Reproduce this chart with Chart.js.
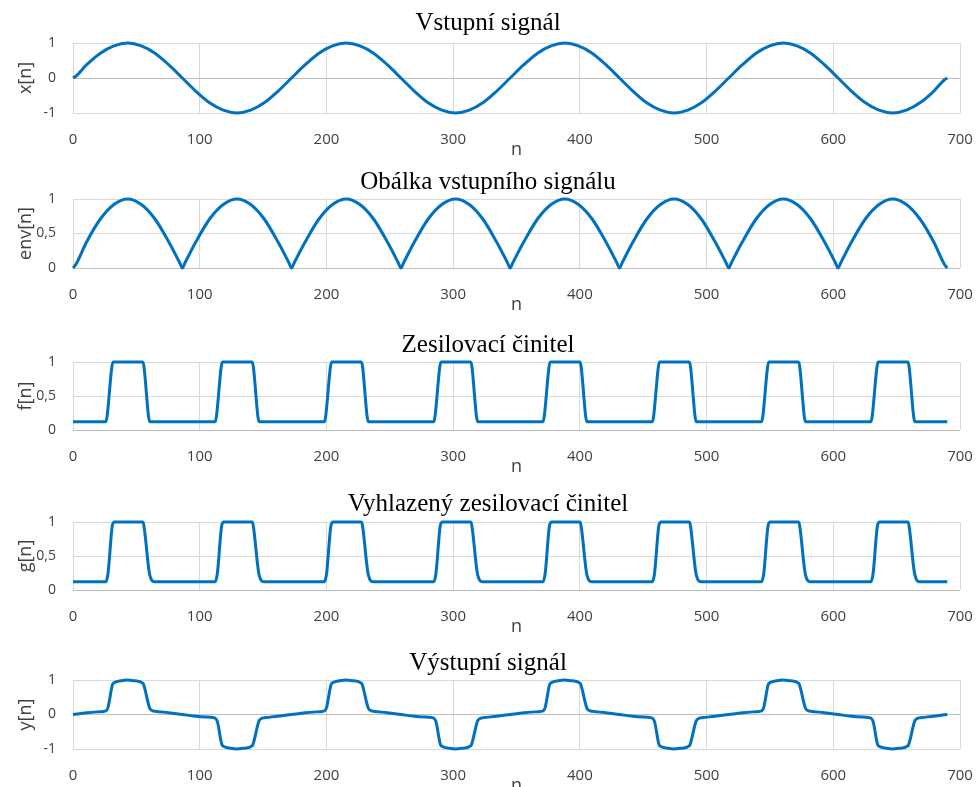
<!DOCTYPE html>
<html>
<head>
<meta charset="utf-8">
<script src="https://cdn.jsdelivr.net/npm/chart.js@4.4.1/dist/chart.umd.min.js"></script>
<style>
  html, body { margin: 0; padding: 0; background: #fff; overflow: hidden; }
  body { width: 976px; height: 787px; position: relative; }
  canvas { position: absolute; }
</style>
</head>
<body>
<script>
// x[n] – input signal
const xN = [0, 2.2, 10.8, 21.6, 32.3, 43.1, 53.9, 64.7, 75.5, 86.3, 97.0, 107.8, 118.6, 129.4, 140.2, 150.9, 161.7,
  172.5, 183.3, 194.1, 204.8, 215.6, 226.4, 237.2, 248.0, 258.8, 269.5, 280.3, 291.1, 301.9, 312.7, 323.4, 334.2,
  345.0, 355.8, 366.6, 377.3, 388.1, 398.9, 409.7, 420.5, 431.3, 442.0, 452.8, 463.6, 474.4, 485.2, 495.9, 506.7,
  517.5, 528.3, 539.1, 549.8, 560.6, 571.4, 582.2, 593.0, 603.8, 614.5, 625.3, 636.1, 646.9, 657.7, 668.4, 679.2, 687.8, 690.0];
const xVals = [0, 0.05, 0.38, 0.71, 0.92, 1, 0.92, 0.71, 0.38, 0, -0.38, -0.71, -0.92, -1, -0.92, -0.71, -0.38,
  0, 0.38, 0.71, 0.92, 1, 0.92, 0.71, 0.38, 0, -0.38, -0.71, -0.92, -1, -0.92, -0.71, -0.38,
  0, 0.38, 0.71, 0.92, 1, 0.92, 0.71, 0.38, 0, -0.38, -0.71, -0.92, -1, -0.92, -0.71, -0.38,
  0, 0.38, 0.71, 0.92, 1, 0.92, 0.71, 0.38, 0, -0.38, -0.71, -0.92, -1, -0.92, -0.71, -0.38, -0.05, 0];

// env[n] – envelope of the input
const envN = [0, 2.2, 10.8, 21.6, 32.3, 43.1, 53.9, 64.7, 75.5, 84.1, 86.3, 88.5,
  97.0, 107.8, 118.6, 129.4, 140.2, 150.9, 161.7, 170.3, 172.5, 174.7,
  183.3, 194.1, 204.8, 215.6, 226.4, 237.2, 248.0, 256.6, 258.8, 261.0,
  269.5, 280.3, 291.1, 301.9, 312.7, 323.4, 334.2, 342.8, 345.0, 347.2,
  355.8, 366.6, 377.3, 388.1, 398.9, 409.7, 420.5, 429.1, 431.3, 433.5,
  442.0, 452.8, 463.6, 474.4, 485.2, 495.9, 506.7, 515.3, 517.5, 519.7,
  528.3, 539.1, 549.8, 560.6, 571.4, 582.2, 593.0, 601.6, 603.8, 606.0,
  614.5, 625.3, 636.1, 646.9, 657.7, 668.4, 679.2, 687.8, 690.0];
const envVals = [0, 0.05, 0.38, 0.71, 0.92, 1, 0.92, 0.71, 0.38, 0.08, 0, 0.08,
  0.38, 0.71, 0.92, 1, 0.92, 0.71, 0.38, 0.08, 0, 0.08,
  0.38, 0.71, 0.92, 1, 0.92, 0.71, 0.38, 0.08, 0, 0.08,
  0.38, 0.71, 0.92, 1, 0.92, 0.71, 0.38, 0.08, 0, 0.08,
  0.38, 0.71, 0.92, 1, 0.92, 0.71, 0.38, 0.08, 0, 0.08,
  0.38, 0.71, 0.92, 1, 0.92, 0.71, 0.38, 0.08, 0, 0.08,
  0.38, 0.71, 0.92, 1, 0.92, 0.71, 0.38, 0.08, 0, 0.08,
  0.38, 0.71, 0.92, 1, 0.92, 0.71, 0.38, 0.05, 0];

// f[n] – gain factor
const fN = [0,
  25.9, 26.9, 30.6, 31.6, 55.1, 56.1, 59.6, 60.6,
  112.2, 113.2, 116.9, 117.9, 141.4, 142.4, 145.9, 146.9,
  198.4, 199.4, 203.1, 204.1, 227.6, 228.6, 232.1, 233.1,
  284.7, 285.7, 289.4, 290.4, 313.9, 314.9, 318.4, 319.4,
  370.9, 371.9, 375.6, 376.6, 400.1, 401.1, 404.6, 405.6,
  457.2, 458.2, 461.9, 462.9, 486.4, 487.4, 490.9, 491.9,
  543.4, 544.4, 548.1, 549.1, 572.6, 573.6, 577.1, 578.1,
  629.7, 630.7, 634.4, 635.4, 658.9, 659.9, 663.4, 664.4,
  690];
const fVals = [0.12,
  0.12, 0.2, 0.92, 1, 1, 0.92, 0.2, 0.12,
  0.12, 0.2, 0.92, 1, 1, 0.92, 0.2, 0.12,
  0.12, 0.2, 0.92, 1, 1, 0.92, 0.2, 0.12,
  0.12, 0.2, 0.92, 1, 1, 0.92, 0.2, 0.12,
  0.12, 0.2, 0.92, 1, 1, 0.92, 0.2, 0.12,
  0.12, 0.2, 0.92, 1, 1, 0.92, 0.2, 0.12,
  0.12, 0.2, 0.92, 1, 1, 0.92, 0.2, 0.12,
  0.12, 0.2, 0.92, 1, 1, 0.92, 0.2, 0.12,
  0.12];

// g[n] – smoothed gain factor
const gN = [0,
  25.8, 27.6, 31.1, 32.8, 55.3, 56.3, 60.6, 64.6,
  112.1, 113.9, 117.4, 119.1, 141.6, 142.6, 146.9, 150.9,
  198.3, 200.1, 203.6, 205.3, 227.8, 228.8, 233.1, 237.1,
  284.6, 286.4, 289.9, 291.6, 314.1, 315.1, 319.4, 323.4,
  370.8, 372.6, 376.1, 377.8, 400.3, 401.3, 405.6, 409.6,
  457.1, 458.9, 462.4, 464.1, 486.6, 487.6, 491.9, 495.9,
  543.3, 545.1, 548.6, 550.3, 572.8, 573.8, 578.1, 582.1,
  629.6, 631.4, 634.9, 636.6, 659.1, 660.1, 664.4, 668.4,
  690];
const gVals = [0.12,
  0.12, 0.24, 0.95, 1, 1, 0.9, 0.22, 0.12,
  0.12, 0.24, 0.95, 1, 1, 0.9, 0.22, 0.12,
  0.12, 0.24, 0.95, 1, 1, 0.9, 0.22, 0.12,
  0.12, 0.24, 0.95, 1, 1, 0.9, 0.22, 0.12,
  0.12, 0.24, 0.95, 1, 1, 0.9, 0.22, 0.12,
  0.12, 0.24, 0.95, 1, 1, 0.9, 0.22, 0.12,
  0.12, 0.24, 0.95, 1, 1, 0.9, 0.22, 0.12,
  0.12, 0.24, 0.95, 1, 1, 0.9, 0.22, 0.12,
  0.12];

// y[n] – output signal
const yN = [0, 10.8,
  24.3, 25.8, 27.6, 31.1, 32.8, 38.1, 43.1, 48.1, 55.3, 56.3, 60.6, 63.6, 65.6, 75.5, 86.3, 97.0,
  110.6, 112.1, 113.9, 117.4, 119.1, 124.4, 129.4, 134.4, 141.6, 142.6, 146.9, 149.9, 151.9, 161.7, 172.5, 183.3,
  196.8, 198.3, 200.1, 203.6, 205.3, 210.6, 215.6, 220.6, 227.8, 228.8, 233.1, 236.1, 238.1, 248.0, 258.8, 269.5,
  283.1, 284.6, 286.4, 289.9, 291.6, 296.9, 301.9, 306.9, 314.1, 315.1, 319.4, 322.4, 324.4, 334.2, 345.0, 355.8,
  369.3, 370.8, 372.6, 376.1, 377.8, 383.1, 388.1, 393.1, 400.3, 401.3, 405.6, 408.6, 410.6, 420.5, 431.3, 442.0,
  455.6, 457.1, 458.9, 462.4, 464.1, 469.4, 474.4, 479.4, 486.6, 487.6, 491.9, 494.9, 496.9, 506.7, 517.5, 528.3,
  541.8, 543.3, 545.1, 548.6, 550.3, 555.6, 560.6, 565.6, 572.8, 573.8, 578.1, 581.1, 583.1, 593.0, 603.8, 614.5,
  628.1, 629.6, 631.4, 634.9, 636.6, 641.9, 646.9, 651.9, 659.1, 660.1, 664.4, 667.4, 669.4, 679.2, 690.0];
const yVals = [0, 0.05,
  0.09, 0.1, 0.2, 0.86, 0.93, 0.98, 1, 0.98, 0.9, 0.8, 0.18, 0.1, 0.09, 0.05, 0, -0.05,
  -0.09, -0.1, -0.2, -0.86, -0.93, -0.98, -1, -0.98, -0.9, -0.8, -0.18, -0.1, -0.09, -0.05, 0, 0.05,
  0.09, 0.1, 0.2, 0.86, 0.93, 0.98, 1, 0.98, 0.9, 0.8, 0.18, 0.1, 0.09, 0.05, 0, -0.05,
  -0.09, -0.1, -0.2, -0.86, -0.93, -0.98, -1, -0.98, -0.9, -0.8, -0.18, -0.1, -0.09, -0.05, 0, 0.05,
  0.09, 0.1, 0.2, 0.86, 0.93, 0.98, 1, 0.98, 0.9, 0.8, 0.18, 0.1, 0.09, 0.05, 0, -0.05,
  -0.09, -0.1, -0.2, -0.86, -0.93, -0.98, -1, -0.98, -0.9, -0.8, -0.18, -0.1, -0.09, -0.05, 0, 0.05,
  0.09, 0.1, 0.2, 0.86, 0.93, 0.98, 1, 0.98, 0.9, 0.8, 0.18, 0.1, 0.09, 0.05, 0, -0.05,
  -0.09, -0.1, -0.2, -0.86, -0.93, -0.98, -1, -0.98, -0.9, -0.8, -0.18, -0.1, -0.09, -0.05, 0];

// axis ticks and labels
const nTicks = [0, 100, 200, 300, 400, 500, 600, 700];
const signedTicks = [-1, 0, 1];
const signedTickText = ['-1', '0', '1'];
const unitTicks = [0, 0.5, 1];
const unitTickText = ['0', '0,5', '1'];

const titles = ['Vstupní signál', 'Obálka vstupního signálu', 'Zesilovací činitel',
  'Vyhlazený zesilovací činitel', 'Výstupní signál'];
const yLabels = ['x[n]', 'env[n]', 'f[n]', 'g[n]', 'y[n]'];

// page layout of the five stacked panels
const CANVAS_LEFT = 16, CANVAS_WIDTH = 960;
const PLOT_LEFT = 73, PLOT_RIGHT = 960;
const X_AXIS_H = 48;
const TITLE_SIZE = 25, TITLE_LH = 1.2;
const LINE_COLOR = '#0070C0';
const TEXT_COLOR = '#404040';

const panels = [
  { n: xN,   v: xVals,   ticks: signedTicks, text: signedTickText, min: -1, titleMid: 23,  top: 43,  bottom: 113 },
  { n: envN, v: envVals, ticks: unitTicks,   text: unitTickText,   min: 0,  titleMid: 182, top: 199, bottom: 268 },
  { n: fN,   v: fVals,   ticks: unitTicks,   text: unitTickText,   min: 0,  titleMid: 345, top: 362, bottom: 430 },
  { n: gN,   v: gVals,   ticks: unitTicks,   text: unitTickText,   min: 0,  titleMid: 504, top: 522, bottom: 590 },
  { n: yN,   v: yVals,   ticks: signedTicks, text: signedTickText, min: -1, titleMid: 663, top: 680, bottom: 749 }
];

panels.forEach((p, idx) => {
  const lh = TITLE_SIZE * TITLE_LH;
  const canvasTop = Math.floor(p.titleMid - lh / 2 - 2);
  const padTop = p.titleMid - canvasTop - lh / 2;
  const padBottom = p.top - canvasTop - lh - padTop;
  const height = p.bottom - canvasTop + X_AXIS_H;

  const canvas = document.createElement('canvas');
  canvas.width = CANVAS_WIDTH;
  canvas.height = height;
  canvas.style.left = CANVAS_LEFT + 'px';
  canvas.style.top = canvasTop + 'px';
  canvas.style.width = CANVAS_WIDTH + 'px';
  canvas.style.height = height + 'px';
  document.body.appendChild(canvas);

  new Chart(canvas, {
    type: 'line',
    data: {
      datasets: [{
        data: p.n.map((n, i) => ({ x: n, y: p.v[i] })),
        borderColor: LINE_COLOR,
        borderWidth: 3,
        pointRadius: 0,
        fill: false,
        cubicInterpolationMode: 'monotone',
        clip: false
      }]
    },
    options: {
      responsive: false,
      animation: false,
      events: [],
      layout: { padding: { left: 0, top: 0, bottom: 0, right: CANVAS_LEFT + CANVAS_WIDTH - PLOT_RIGHT } },
      plugins: {
        legend: { display: false },
        tooltip: { enabled: false },
        title: {
          display: true,
          text: titles[idx],
          color: '#000',
          font: { family: 'Liberation Serif', size: TITLE_SIZE, weight: 'normal', lineHeight: TITLE_LH },
          padding: { top: padTop, bottom: padBottom }
        }
      },
      scales: {
        x: {
          type: 'linear',
          min: 0,
          max: 700,
          afterBuildTicks: s => { s.ticks = nTicks.map(v => ({ value: v })); },
          afterFit: s => { s.height = X_AXIS_H; s.paddingLeft = 0; s.paddingRight = 0; },
          grid: { color: '#d9d9d9', lineWidth: 1, drawTicks: false },
          border: { display: false },
          ticks: {
            padding: 18, color: TEXT_COLOR, maxRotation: 0, autoSkip: false,
            font: { family: 'Open Sans', size: 15 }
          },
          title: {
            display: true, text: 'n', color: TEXT_COLOR,
            font: { family: 'Open Sans', size: 18 },
            padding: { top: 0, bottom: 0.5 }
          }
        },
        y: {
          min: p.min,
          max: 1,
          afterBuildTicks: s => { s.ticks = p.ticks.map(v => ({ value: v })); },
          afterFit: s => { s.width = PLOT_LEFT - CANVAS_LEFT; },
          grid: {
            color: ctx => (ctx.tick && ctx.tick.value === 0) ? '#bfbfbf' : '#d9d9d9',
            lineWidth: 1,
            drawTicks: false
          },
          border: { display: false },
          ticks: {
            padding: 17, color: TEXT_COLOR,
            font: { family: 'Open Sans', size: 14 },
            callback: v => { const i = p.ticks.indexOf(v); return i >= 0 ? p.text[i] : ''; }
          },
          title: {
            display: true, text: yLabels[idx], color: TEXT_COLOR,
            font: { family: 'Open Sans', size: 18, lineHeight: 1.1 },
            padding: { top: 0, bottom: 0 }
          }
        }
      }
    }
  });
});
</script>
</body>
</html>
